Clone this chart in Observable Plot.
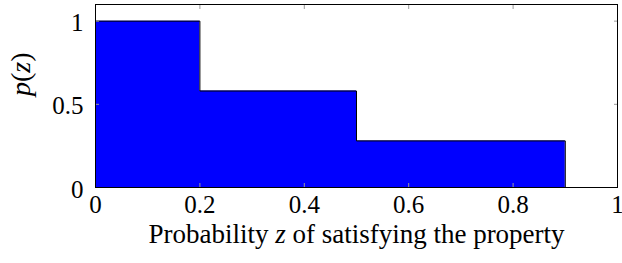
<!DOCTYPE html>
<html><head>
<meta charset="utf-8">
<script src="https://cdn.jsdelivr.net/npm/d3@7"></script>
<script src="https://cdn.jsdelivr.net/npm/@observablehq/plot@0.6"></script>
<style>body{margin:0;background:#fff}</style>
</head><body><div id="chart"></div>
<script>
const binStart = [0, 0.2, 0.5];
const binEnd = [0.2, 0.5, 0.9];
const pValues = [1, 0.58, 0.28];
const xTicks = [0, 0.2, 0.4, 0.6, 0.8, 1];
const yTicks = [0, 0.5, 1];
const xLabelParts = [["Probability ", false], ["z", true], [" of satisfying the property", false]];
const yLabelParts = [["p", true], ["(", false], ["z", true], [")", false]];

const steps = binStart.map((s, i) => ({x: s, y: pValues[i]}));
steps.push({x: binEnd[binEnd.length - 1], y: pValues[pValues.length - 1]});
const outline = steps.concat([{x: binEnd[binEnd.length - 1], y: 0}]);

const tickColor = "#999";
const serif = "Liberation Serif, Times New Roman, serif";

const chart = Plot.plot({
  width: 622, height: 263,
  marginLeft: 95, marginRight: 5, marginTop: 4, marginBottom: 76,
  style: {fontFamily: serif, fontSize: "25px", background: "#fff", color: "#000"},
  x: {domain: [0, 1]},
  y: {domain: [0, 1.1]},
  marks: [
    Plot.areaY(steps, {x: "x", y: "y", curve: "step-after", fill: "#0000ff"}),
    Plot.lineY(outline, {x: "x", y: "y", curve: "step-after", stroke: "#000", strokeWidth: 1}),
    Plot.axisX(xTicks, {anchor: "bottom", tickSize: 0, tickPadding: 8, fontSize: 25, tickFormat: d => String(d), label: null}),
    Plot.axisY(yTicks, {anchor: "left", tickSize: 0, tickPadding: 12, dy: 2, fontSize: 25, tickFormat: d => String(d), label: null}),
    Plot.axisX(xTicks, {anchor: "bottom", tickSize: -4, tickFormat: () => "", label: null, stroke: tickColor}),
    Plot.axisX(xTicks, {anchor: "top", tickSize: -4, tickFormat: () => "", label: null, stroke: tickColor}),
    Plot.axisY(yTicks, {anchor: "left", tickSize: -4, tickFormat: () => "", label: null, stroke: tickColor}),
    Plot.axisY(yTicks, {anchor: "right", tickSize: -4, tickFormat: () => "", label: null, stroke: tickColor}),
    Plot.frame({stroke: "#000", strokeWidth: 1}),
    Plot.text(["x"], {frameAnchor: "bottom", dy: 55, text: d => d, className: "xlab", fontSize: 27}),
    Plot.text(["y"], {frameAnchor: "left", dx: -74, rotate: -90, text: d => d, className: "ylab", fontSize: 28})
  ]
});
document.getElementById("chart").append(chart);

function fillLabel(sel, parts) {
  const t = d3.select(chart).select(sel + " text");
  t.text(null);
  parts.forEach(([s, it]) => {
    t.append("tspan").attr("font-style", it ? "italic" : null).text(s);
  });
}
fillLabel("g.xlab", xLabelParts);
fillLabel("g.ylab", yLabelParts);
</script>
</body></html>
